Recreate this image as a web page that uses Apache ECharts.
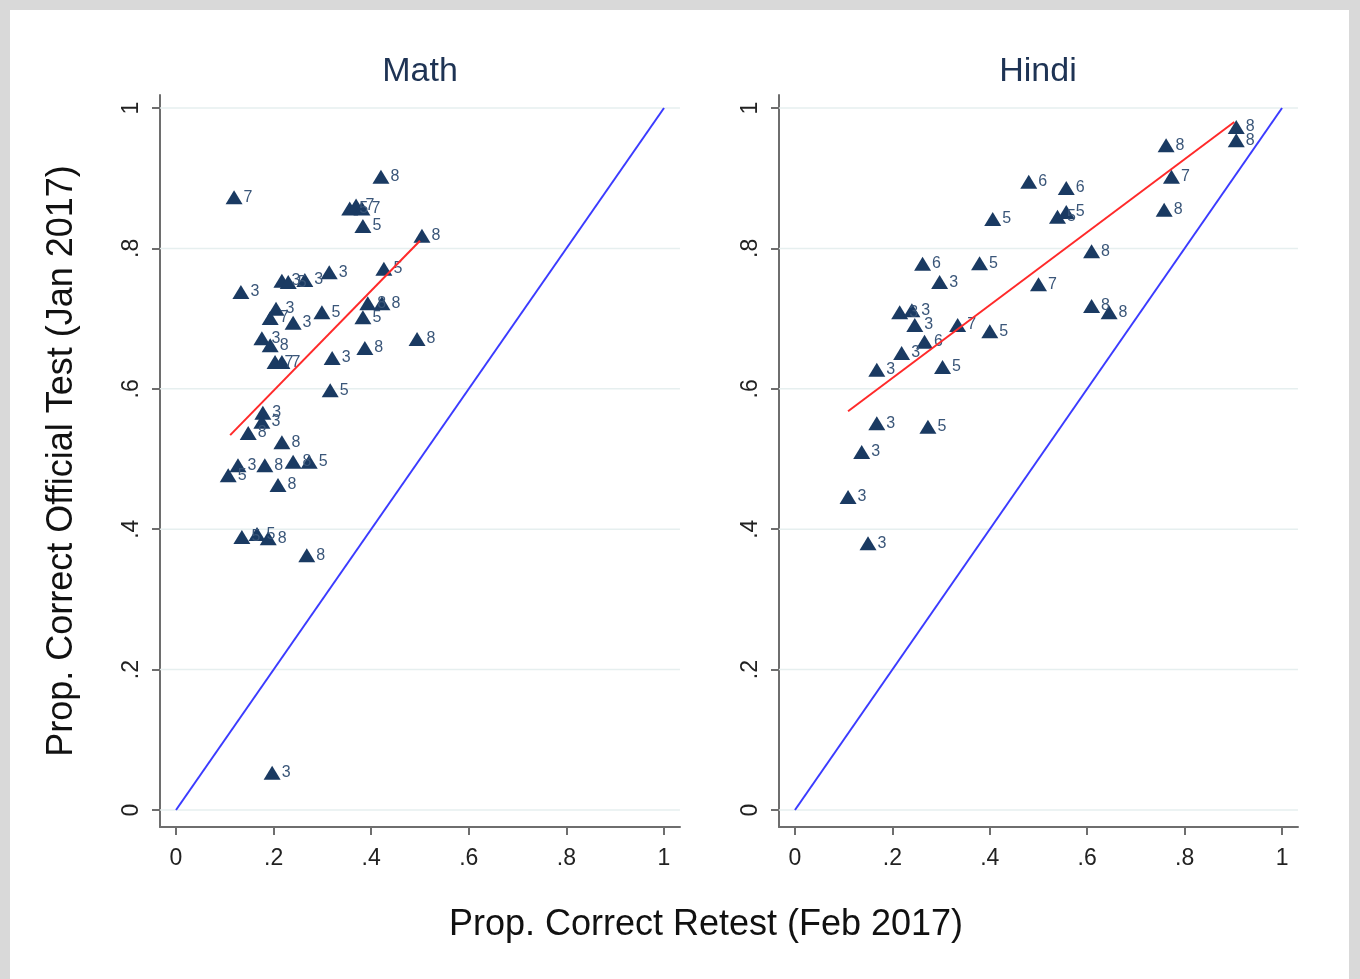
<!DOCTYPE html>
<html>
<head>
<meta charset="utf-8">
<script src="https://cdn.jsdelivr.net/npm/echarts@6/dist/echarts.min.js"></script>
<style>
html,body{margin:0;padding:0;background:#fff;}
#c{width:1360px;height:979px;}
</style>
</head>
<body>
<div id="c"></div>
<script>
// ---- data ----
const panelTitles = ['Math', 'Hindi'];
const tickValues = [0, 0.2, 0.4, 0.6, 0.8, 1];
const tickLabels = ['0', '.2', '.4', '.6', '.8', '1'];

const mathX = [0.119, 0.420, 0.356, 0.369, 0.381, 0.383, 0.504, 0.426, 0.314, 0.217, 0.230, 0.264,
  0.133, 0.205, 0.193, 0.240, 0.299, 0.393, 0.422, 0.383, 0.494, 0.387, 0.320, 0.316, 0.176, 0.193,
  0.203, 0.217, 0.178, 0.176, 0.148, 0.217, 0.127, 0.107, 0.182, 0.240, 0.273, 0.209, 0.135, 0.166,
  0.189, 0.268, 0.197];
const mathY = [0.873, 0.902, 0.857, 0.861, 0.857, 0.832, 0.818, 0.771, 0.766, 0.754, 0.752, 0.755,
  0.738, 0.714, 0.701, 0.694, 0.709, 0.722, 0.722, 0.702, 0.671, 0.658, 0.644, 0.598, 0.672, 0.662,
  0.638, 0.638, 0.566, 0.553, 0.537, 0.524, 0.491, 0.477, 0.491, 0.496, 0.496, 0.463, 0.389, 0.393,
  0.387, 0.363, 0.053];
const mathLab = ['7', '8', '5', '7', '7', '5', '8', '5', '3', '3', '5', '3',
  '3', '3', '7', '3', '5', '8', '8', '5', '8', '8', '3', '5', '3', '8',
  '7', '7', '3', '3', '8', '8', '3', '5', '8', '8', '5', '8', '5', '5',
  '8', '8', '3'];

const hindiX = [0.480, 0.557, 0.406, 0.539, 0.557, 0.609, 0.262, 0.379, 0.297, 0.500, 0.609, 0.645,
  0.215, 0.240, 0.246, 0.334, 0.400, 0.266, 0.219, 0.168, 0.303, 0.168, 0.273, 0.137, 0.109, 0.150,
  0.762, 0.906, 0.906, 0.773, 0.758];
const hindiY = [0.895, 0.886, 0.842, 0.845, 0.852, 0.796, 0.778, 0.779, 0.752, 0.749, 0.718, 0.709,
  0.709, 0.712, 0.691, 0.691, 0.682, 0.667, 0.651, 0.627, 0.631, 0.551, 0.546, 0.510, 0.446, 0.380,
  0.947, 0.973, 0.954, 0.902, 0.855];
const hindiLab = ['6', '6', '5', '5', '5', '8', '6', '5', '3', '7', '8', '8',
  '3', '3', '3', '7', '5', '6', '3', '3', '5', '3', '5', '3', '3', '3',
  '8', '8', '8', '7', '8'];

const mathFitX = [0.111, 0.500];
const mathFitY = [0.534, 0.811];
const hindiFitX = [0.109, 0.902];
const hindiFitY = [0.568, 0.980];
const diagX = [0, 1];
const diagY = [0, 1];

// ---- build ----
const zip3 = (a, b, c) => a.map((v, i) => c ? [v, b[i], c[i]] : [v, b[i]]);
const navy = '#1a3a62';
const FONT = '"Liberation Sans", Arial, sans-serif';
const grids = [
  {left: 160, top: 95, width: 520, height: 732},
  {left: 779, top: 95, width: 519, height: 732}
];
const xMin = -16 / 488, xMax = 1 + 16 / 488;
const yMin = -17 / 702, yMax = 1 + 13 / 702;
const fmt = v => tickLabels[tickValues.indexOf(Math.round(v * 10) / 10)];

const axisCommon = {
  axisLine: {show: true, onZero: false, lineStyle: {color: '#6e6e6e', width: 2}},
  axisTick: {show: true, customValues: tickValues, length: 8, lineStyle: {color: '#6e6e6e', width: 2}},
  splitLine: {show: false}
};
const xAxes = grids.map((g, i) => Object.assign({}, axisCommon, {
  type: 'value', gridIndex: i, min: xMin, max: xMax,
  axisLabel: {customValues: tickValues, formatter: fmt, fontSize: 23, color: '#222', margin: 20, fontFamily: FONT}
}));
const yAxes = grids.map((g, i) => Object.assign({}, axisCommon, {
  type: 'value', gridIndex: i, min: yMin, max: yMax,
  axisLabel: {customValues: tickValues, rotate: 90, formatter: fmt, fontSize: 23, color: '#222', margin: 17, fontFamily: FONT}
}));

function gridLines(i) {
  return tickValues.map(v => ({
    type: 'line', xAxisIndex: i, yAxisIndex: i, silent: true, symbol: 'none', z: 0,
    data: [[xMin + 0.0001, v], [xMax - 0.0001, v]],
    lineStyle: {color: '#e6efef', width: 1.5}
  }));
}

function scatter(i, xs, ys, labs) {
  return {
    type: 'scatter', xAxisIndex: i, yAxisIndex: i, symbol: 'triangle', symbolSize: [17, 14],
    itemStyle: {color: navy, opacity: 1},
    label: {show: true, position: 'right', distance: 1, formatter: p => p.value[2],
      fontSize: 16, color: '#3a5679', fontFamily: FONT},
    data: zip3(xs, ys, labs), z: 3
  };
}
function line(i, xs, ys, color) {
  return {
    type: 'line', xAxisIndex: i, yAxisIndex: i, symbol: 'none', silent: true, z: 4,
    lineStyle: {color: color, width: 2}, data: zip3(xs, ys)
  };
}

const option = {
  backgroundColor: '#ffffff',
  animation: false,
  title: [
    {text: panelTitles[0], left: 415, top: 50, textAlign: 'center',
      textStyle: {fontSize: 34, fontWeight: 'normal', color: '#1e3354', fontFamily: FONT}},
    {text: panelTitles[1], left: 1033, top: 50, textAlign: 'center',
      textStyle: {fontSize: 34, fontWeight: 'normal', color: '#1e3354', fontFamily: FONT}}
  ],
  grid: grids,
  xAxis: xAxes,
  yAxis: yAxes,
  graphic: [
    {type: 'rect', shape: {x: 0, y: 0, width: 1360, height: 10}, style: {fill: '#d9d9d9'}, silent: true},
    {type: 'rect', shape: {x: 0, y: 0, width: 10, height: 979}, style: {fill: '#d9d9d9'}, silent: true},
    {type: 'rect', shape: {x: 1349, y: 0, width: 11, height: 979}, style: {fill: '#d9d9d9'}, silent: true},
    {type: 'text', x: 62, y: 461, rotation: Math.PI / 2,
      style: {text: 'Prop. Correct Official Test (Jan 2017)', fontSize: 36, fill: '#111',
        fontFamily: FONT, textAlign: 'center', textVerticalAlign: 'middle'}},
    {type: 'text', x: 706, y: 925,
      style: {text: 'Prop. Correct Retest (Feb 2017)', fontSize: 36, fill: '#111',
        fontFamily: FONT, textAlign: 'center', textVerticalAlign: 'middle'}}
  ],
  series: [].concat(
    gridLines(0), gridLines(1),
    [scatter(0, mathX, mathY, mathLab), scatter(1, hindiX, hindiY, hindiLab),
     line(0, mathFitX, mathFitY, '#ff2a2a'), line(1, hindiFitX, hindiFitY, '#ff2a2a'),
     line(0, diagX, diagY, '#3b3bff'), line(1, diagX, diagY, '#3b3bff')]
  )
};
const chart = echarts.init(document.getElementById('c'), null, {renderer: 'canvas'});
chart.setOption(option);
</script>
</body>
</html>
